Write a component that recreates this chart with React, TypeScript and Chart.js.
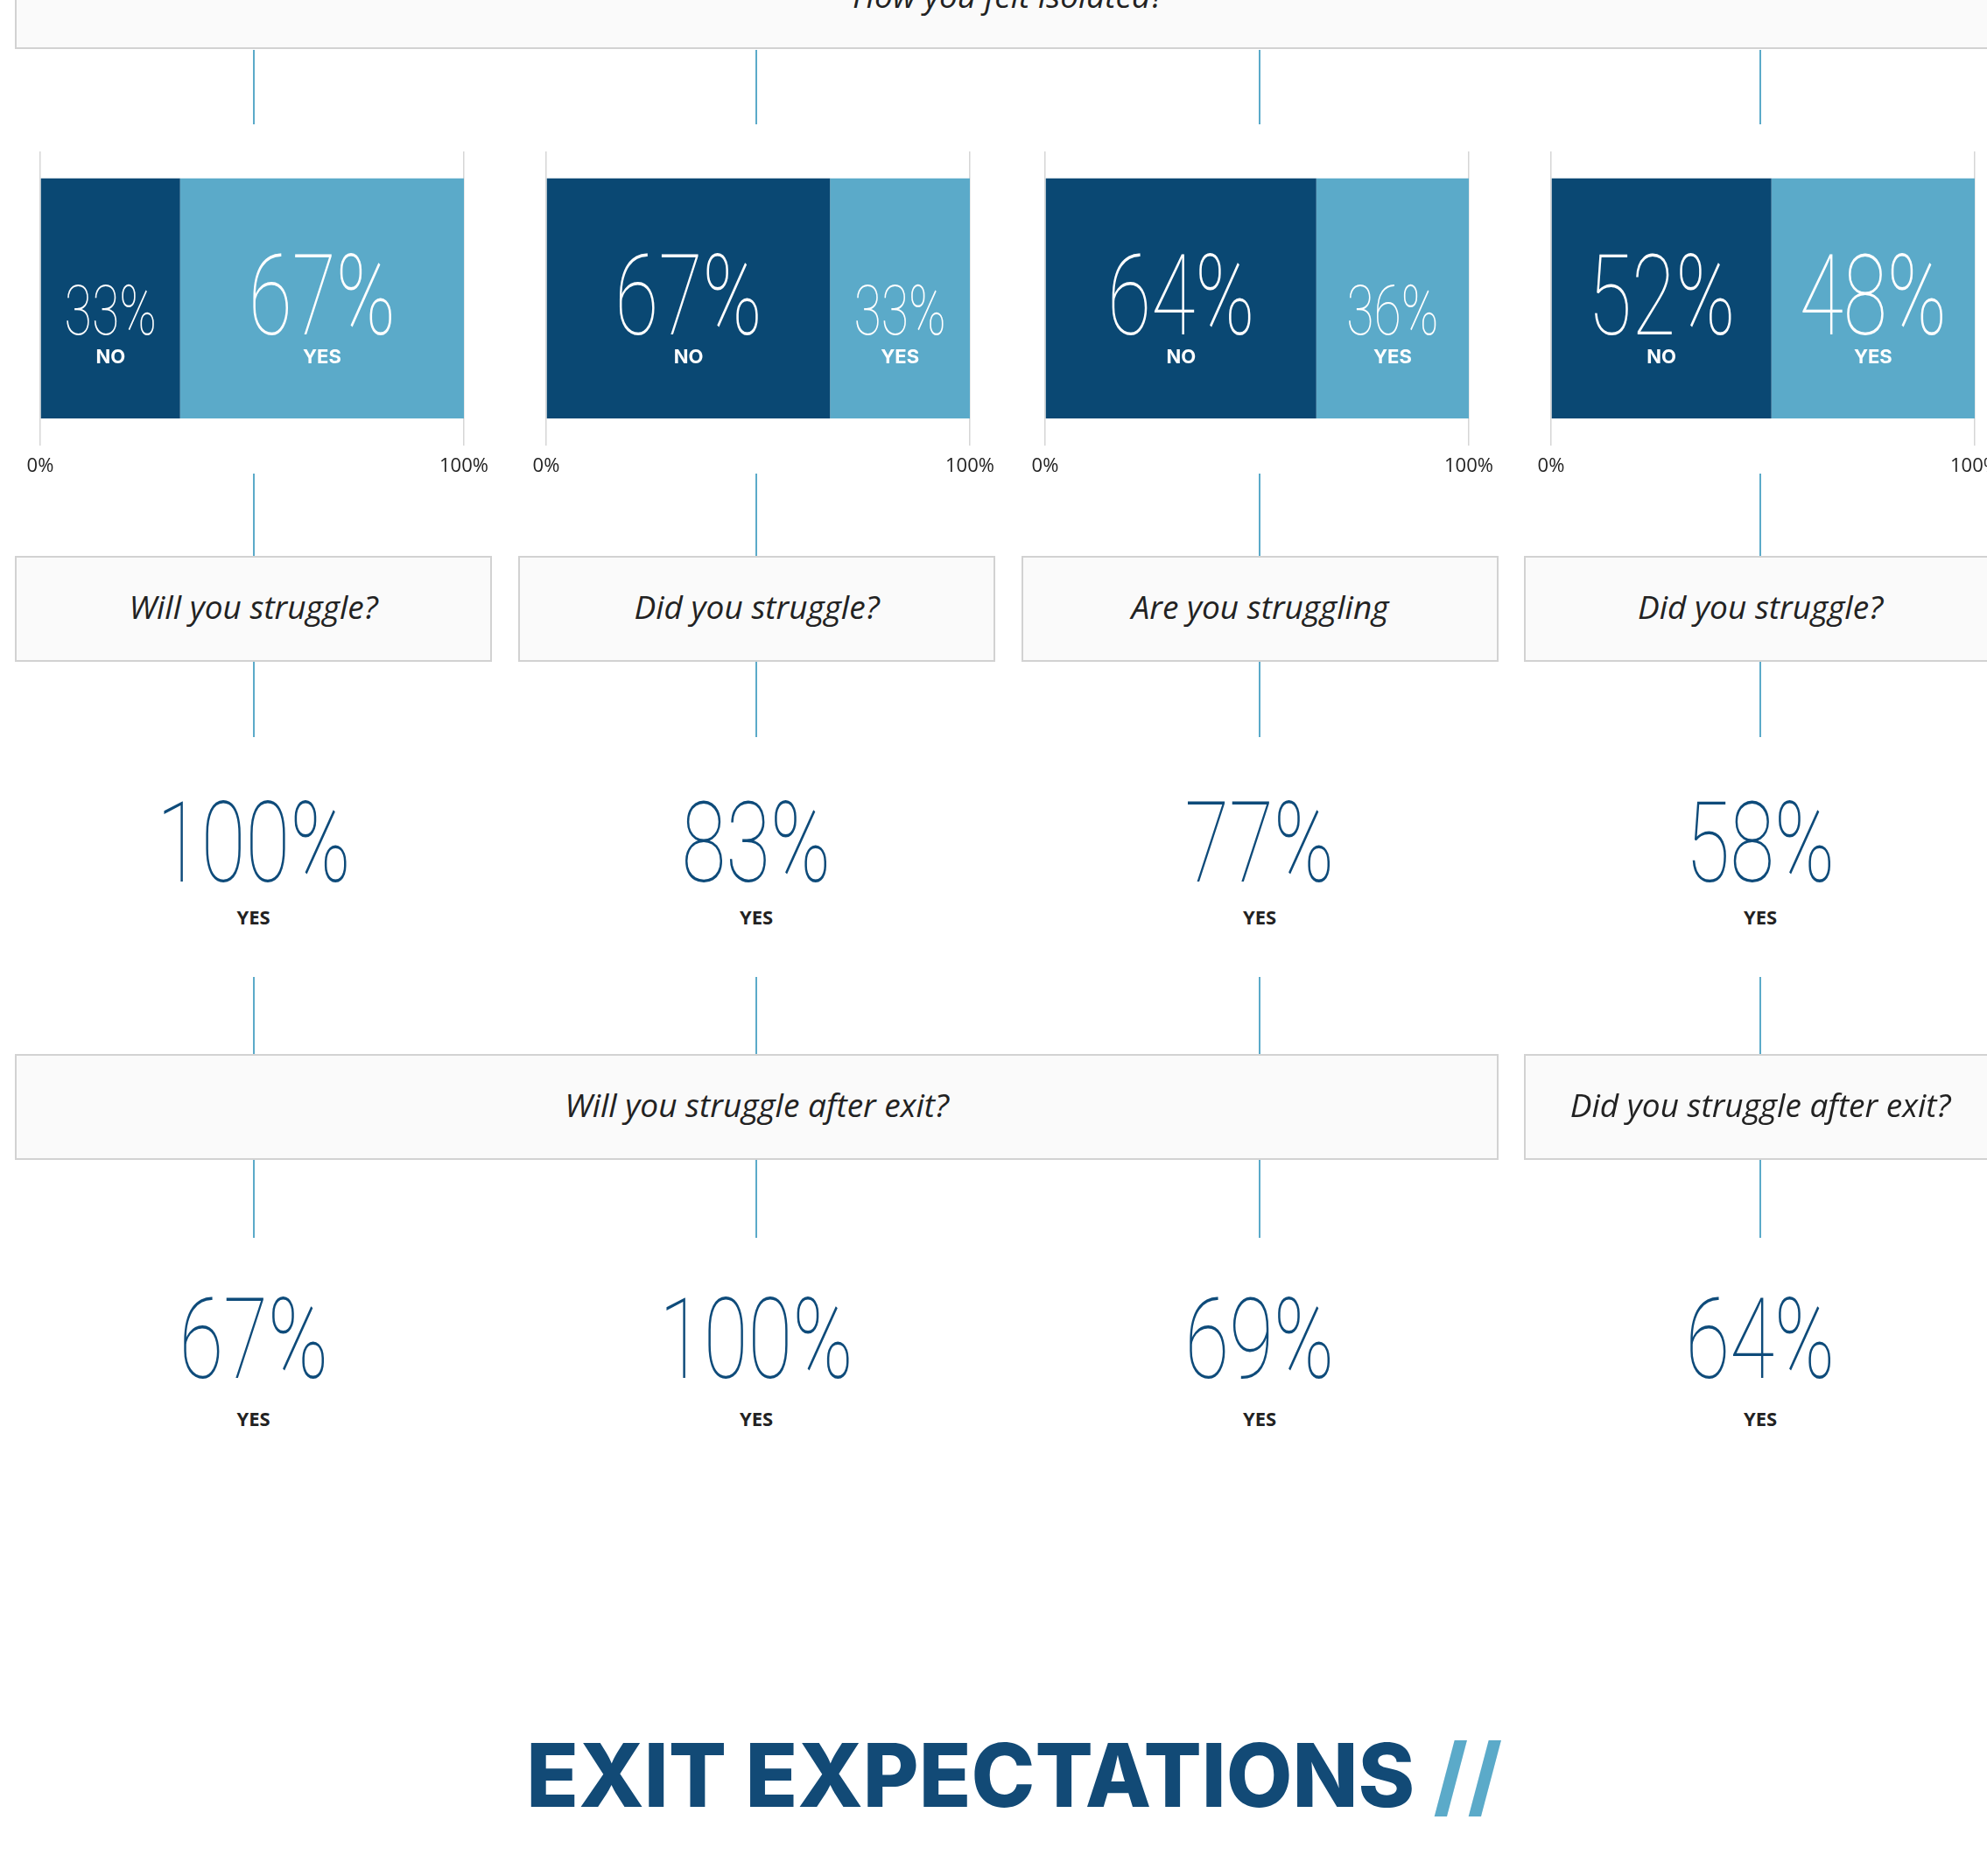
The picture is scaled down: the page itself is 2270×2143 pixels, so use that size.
import React, { useEffect, useRef } from "react";
import { Chart, registerables } from "chart.js";
Chart.register(...registerables);

// ---------- data ----------
const topQuestion = "How you felt isolated?";
const answerLabels = ["NO", "YES"];
const noValues = [33, 67, 64, 52];
const yesValues = [67, 33, 36, 48];
const axisTicks = [0, 100];
const middleQuestions = ["Will you struggle?", "Did you struggle?", "Are you struggling", "Did you struggle?"];
const middleYes = [100, 83, 77, 58];
const exitQuestions = ["Will you struggle after exit?", "Did you struggle after exit?"];
const exitSpans = [3, 1];
const exitYes = [67, 100, 69, 64];
const yesWord = "YES";
const titleText = "EXIT EXPECTATIONS";
const titleMark = "//";

// ---------- layout / style ----------
const DARK = "#0a4873";
const LIGHT = "#5baac9";
const NUM = "#0e4b7a";
const TEXT = "#222222";
const COL_LEFTS = [17, 592, 1167, 1741];
const COL_WIDTHS = [545, 545, 545, 540];
const COL_CENTERS = [289.5, 864, 1439, 2011];
const GRID_LEFTS = [46, 624, 1194, 1772];
const CANVAS_W = 545;
const CANVAS_H = 415;
const PAD_L = 29;
const PLOT_W = 484;
const THIN = "Roboto, Lato, sans-serif";

const innerLabels = {
  id: "innerLabels",
  afterDatasetsDraw(chart: any) {
    const ctx = chart.ctx;
    chart.data.datasets.forEach((ds: any, i: number) => {
      const meta = chart.getDatasetMeta(i);
      meta.data.forEach((el: any, j: number) => {
        const { x, base, y } = el.getProps(["x", "base", "y"], true);
        const l = Math.min(x, base);
        const r = Math.max(x, base);
        const w = r - l;
        const cx = (l + r) / 2;
        const v = ds.data[j];
        const size = w > 200 ? 128 : 80;
        ctx.save();
        ctx.fillStyle = "#ffffff";
        ctx.textAlign = "center";
        ctx.textBaseline = "alphabetic";
        ctx.font = `100 ${size}px ${THIN}`;
        ctx.translate(cx, y + 41);
        ctx.scale(0.715, 1);
        ctx.fillText(v + "%", 0, 0);
        ctx.restore();
        ctx.save();
        ctx.fillStyle = "#ffffff";
        ctx.textAlign = "center";
        ctx.textBaseline = "middle";
        ctx.font = "700 22px Inter, 'Open Sans', sans-serif";
        ctx.fillText(ds.label, cx, y + 68);
        ctx.restore();
      });
    });
  },
};

function BarPanel({ idx }: { idx: number }) {
  const ref = useRef<HTMLCanvasElement>(null);
  useEffect(() => {
    if (!ref.current) return;
    const chart = new Chart(ref.current, {
      type: "bar",
      data: {
        labels: [""],
        datasets: [
          { label: answerLabels[0], data: [noValues[idx]], backgroundColor: DARK, borderWidth: 0 },
          { label: answerLabels[1], data: [yesValues[idx]], backgroundColor: LIGHT, borderWidth: 0 },
        ],
      },
      options: {
        indexAxis: "y",
        responsive: false,
        animation: false,
        devicePixelRatio: 1,
        datasets: { bar: { barPercentage: 0.817, categoryPercentage: 1 } },
        layout: { padding: { left: PAD_L, right: CANVAS_W - PAD_L - PLOT_W, top: 23, bottom: 8 } },
        plugins: { legend: { display: false }, tooltip: { enabled: false } },
        scales: {
          x: {
            stacked: true,
            min: axisTicks[0],
            max: axisTicks[1],
            afterBuildTicks: (s: any) => {
              s.ticks = axisTicks.map((v) => ({ value: v }));
            },
            afterFit: (s: any) => {
              s.paddingLeft = 0;
              s.paddingRight = 0;
            },
            ticks: {
              callback: (v: any) => v + "%",
              font: { family: "'Open Sans', sans-serif", size: 22 },
              color: TEXT,
              padding: 11,
              maxRotation: 0,
            },
            grid: { color: "#d6d6d6", lineWidth: 1.5, drawTicks: false },
            border: { display: false },
          },
          y: { stacked: true, display: false },
        },
      } as any,
      plugins: [innerLabels],
    });
    return () => chart.destroy();
  }, [idx]);
  return (
    <canvas
      ref={ref}
      width={CANVAS_W}
      height={CANVAS_H}
      style={{ position: "absolute", left: GRID_LEFTS[idx] - PAD_L, top: 150, width: CANVAS_W, height: CANVAS_H }}
    />
  );
}

function VLine({ x, top, bottom }: { x: number; top: number; bottom: number }) {
  return <div style={{ position: "absolute", left: x - 1, top, width: 2, height: bottom - top, background: LIGHT }} />;
}

function Box({ left, top, width, height, text, dy }: any) {
  return (
    <div
      style={{
        position: "absolute",
        left,
        top,
        width,
        height,
        boxSizing: "border-box",
        border: "2px solid #d2d2d2",
        background: "#fafafa",
        display: "flex",
        alignItems: "center",
        justifyContent: "center",
      }}
    >
      <span
        style={{
          display: "inline-block",
          position: "relative",
          top: dy,
          fontFamily: "'Open Sans', sans-serif",
          fontStyle: "italic",
          fontSize: 37,
          color: TEXT,
          whiteSpace: "nowrap",
        }}
      >
        {text}
      </span>
    </div>
  );
}

function BigNum({ cx, top, value, yesGap }: { cx: number; top: number; value: number; yesGap: number }) {
  return (
    <>
      <div
        style={{
          position: "absolute",
          left: cx - 250,
          width: 500,
          top,
          textAlign: "center",
          fontFamily: THIN,
          fontWeight: 100,
          fontSize: 128,
          lineHeight: "128px",
          color: NUM,
          whiteSpace: "nowrap",
        }}
      >
        <span style={{ display: "inline-block", transform: "scaleX(0.725)" }}>{value}%</span>
      </div>
      <div
        style={{
          position: "absolute",
          left: cx - 100,
          width: 200,
          top: top + yesGap,
          height: 30,
          lineHeight: "30px",
          textAlign: "center",
          fontFamily: "'Open Sans', sans-serif",
          fontWeight: 700,
          fontSize: 22,
          color: TEXT,
        }}
      >
        {yesWord}
      </div>
    </>
  );
}

export default function App() {
  const cols = [0, 1, 2, 3];
  let exitStart = 0;
  const exitBoxes = exitQuestions.map((q, k) => {
    const s = exitStart;
    const e = s + exitSpans[k] - 1;
    exitStart += exitSpans[k];
    const left = COL_LEFTS[s];
    const width = COL_LEFTS[e] + COL_WIDTHS[e] - left;
    return <Box key={"e" + k} left={left} top={1204} width={width} height={121} text={q} dy={-3} />;
  });
  return (
    <div
      style={{
        position: "fixed",
        left: 0,
        top: 0,
        width: 2270,
        height: 2143,
        overflow: "hidden",
        background: "#ffffff",
      }}
    >
      <Box left={COL_LEFTS[0]} top={-64} width={2270} height={120} text={topQuestion} dy={-2} />
      {cols.map((i) => (
        <React.Fragment key={i}>
          <VLine x={COL_CENTERS[i]} top={57} bottom={142} />
          <BarPanel idx={i} />
          <VLine x={COL_CENTERS[i]} top={541} bottom={635} />
          <Box left={COL_LEFTS[i]} top={635} width={COL_WIDTHS[i]} height={121} text={middleQuestions[i]} dy={-3} />
          <VLine x={COL_CENTERS[i]} top={756} bottom={842} />
          <BigNum cx={COL_CENTERS[i]} top={899} value={middleYes[i]} yesGap={133} />
          <VLine x={COL_CENTERS[i]} top={1116} bottom={1204} />
          <VLine x={COL_CENTERS[i]} top={1325} bottom={1414} />
          <BigNum cx={COL_CENTERS[i]} top={1466} value={exitYes[i]} yesGap={139} />
        </React.Fragment>
      ))}
      {exitBoxes}
      <div
        style={{
          position: "absolute",
          left: COL_LEFTS[0] + 7,
          width: 2270,
          top: 1978,
          textAlign: "center",
          fontFamily: "Inter, 'Open Sans', sans-serif",
          fontWeight: 800,
          fontSize: 100,
          lineHeight: "100px",
          color: "#124a76",
          whiteSpace: "nowrap",
        }}
      >
        <span style={{ display: "inline-block", transform: "scaleX(0.98)" }}>
          {titleText} <span style={{ color: LIGHT }}>{titleMark}</span>
        </span>
      </div>
    </div>
  );
}
